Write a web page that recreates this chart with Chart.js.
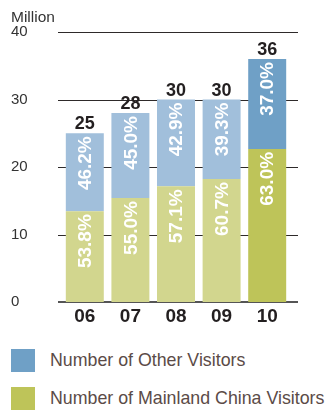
<!DOCTYPE html>
<html>
<head>
<meta charset="utf-8">
<script src="https://cdn.jsdelivr.net/npm/chart.js@4/dist/chart.umd.min.js"></script>
<style>
  html, body { margin: 0; padding: 0; background: #ffffff; }
  #wrap { position: relative; width: 328px; height: 410px; overflow: hidden; font-family: "Liberation Sans", Arial, sans-serif; }
  #box { position: absolute; left: 0; top: 0; width: 328px; height: 336px; }
  .lg-item { position: absolute; left: 11px; height: 23px; display: flex; align-items: center; white-space: nowrap; }
  .lg-swatch { width: 24px; height: 23px; flex: none; }
  .lg-text { margin-left: 15px; font-size: 17.8px; color: #5b4b47; }
</style>
</head>
<body>
<div id="wrap">
  <div id="box"><canvas id="c"></canvas></div>
  <div id="legend"></div>
</div>
<script>
// Visitor arrivals (million) and the share of each group (%)
const years = ['06', '07', '08', '09', '10'];
const totals = [25, 28, 30, 30, 36];
const mainlandShare = [53.8, 55.0, 57.1, 60.7, 63.0];
const otherShare = [46.2, 45.0, 42.9, 39.3, 37.0];
const yTicks = [0, 10, 20, 30, 40];

// Earlier years are drawn in the pale tint, the latest year in full colour
const mainlandColors = ['#d2d68e', '#d2d68e', '#d2d68e', '#d2d68e', '#bec459'];
const otherColors = ['#a1bfdb', '#a1bfdb', '#a1bfdb', '#a1bfdb', '#6fa0c6'];

const mainlandValues = totals.map((t, i) => t * mainlandShare[i] / 100);
const otherValues = totals.map((t, i) => t * otherShare[i] / 100);

const FONT = '"Liberation Sans", Arial, sans-serif';

// Horizontal rules behind the bars, a little wider than the plot area
const rulePlugin = {
  id: 'rules',
  beforeDatasetsDraw(chart) {
    const ctx = chart.ctx, y = chart.scales.y, area = chart.chartArea;
    ctx.save();
    yTicks.forEach(v => {
      const py = Math.round(y.getPixelForValue(v));
      ctx.beginPath();
      if (v === 0) {
        ctx.strokeStyle = '#555555';
        ctx.lineWidth = 2;
        ctx.moveTo(area.left - 4, py);
        ctx.lineTo(area.right + 8, py);
      } else {
        ctx.strokeStyle = '#2e2a2a';
        ctx.lineWidth = 1;
        ctx.moveTo(area.left - 4, py + 0.5);
        ctx.lineTo(area.right + 8, py + 0.5);
      }
      ctx.stroke();
    });
    ctx.restore();
  }
};

// Share labels inside each segment and totals above each bar
const labelPlugin = {
  id: 'barLabels',
  afterDatasetsDraw(chart) {
    const ctx = chart.ctx;
    const shares = [mainlandShare, otherShare];
    ctx.save();
    chart.data.datasets.forEach((ds, di) => {
      const meta = chart.getDatasetMeta(di);
      meta.data.forEach((bar, i) => {
        ctx.save();
        ctx.translate(bar.x, bar.y + 3);
        ctx.rotate(-Math.PI / 2);
        ctx.fillStyle = '#ffffff';
        ctx.font = 'bold 19px ' + FONT;
        ctx.textAlign = 'right';
        ctx.textBaseline = 'middle';
        ctx.fillText(shares[di][i].toFixed(1) + '%', 0, 1);
        ctx.restore();
      });
    });
    const top = chart.getDatasetMeta(1);
    ctx.fillStyle = '#231f20';
    ctx.font = 'bold 18px ' + FONT;
    ctx.textAlign = 'center';
    ctx.textBaseline = 'alphabetic';
    top.data.forEach((bar, i) => {
      ctx.fillText(String(totals[i]), bar.x, bar.y - 4);
    });
    // unit caption above the value axis
    ctx.fillStyle = '#333333';
    ctx.font = '15.5px ' + FONT;
    ctx.textAlign = 'left';
    ctx.fillText('Million', 11, 22);
    ctx.restore();
  }
};

const chart = new Chart(document.getElementById('c'), {
  type: 'bar',
  data: {
    labels: years,
    datasets: [
      { label: 'Number of Mainland China Visitors', data: mainlandValues, backgroundColor: mainlandColors, legendColor: '#bec459' },
      { label: 'Number of Other Visitors', data: otherValues, backgroundColor: otherColors, legendColor: '#6fa0c6' }
    ]
  },
  options: {
    responsive: true,
    maintainAspectRatio: false,
    animation: false,
    layout: { padding: { left: 11, right: 38, top: 32, bottom: 0 } },
    datasets: { bar: { barPercentage: 0.833, categoryPercentage: 1.0, borderWidth: 0 } },
    plugins: {
      legend: { display: false },
      tooltip: { enabled: false }
    },
    scales: {
      x: {
        stacked: true,
        grid: { display: false, drawTicks: false },
        border: { display: false },
        ticks: { color: '#231f20', font: { family: FONT, size: 19, weight: 'bold' }, padding: 3 },
        afterFit(s) { s.height = 34; }
      },
      y: {
        stacked: true,
        min: 0,
        max: 40,
        grid: { display: false, drawTicks: false },
        border: { display: false },
        ticks: {
          stepSize: 10,
          crossAlign: 'far',
          padding: 0,
          color: '#333333',
          font: { family: FONT, size: 15 }
        },
        afterFit(s) { s.width = 51; }
      }
    }
  },
  plugins: [rulePlugin, labelPlugin]
});

// Legend below the chart, top series listed first
const legend = document.getElementById('legend');
const tops = [349, 387];
chart.data.datasets.slice().reverse().forEach((ds, k) => {
  const item = document.createElement('div');
  item.className = 'lg-item';
  item.style.top = tops[k] + 'px';
  const sw = document.createElement('div');
  sw.className = 'lg-swatch';
  sw.style.background = ds.legendColor;
  const tx = document.createElement('span');
  tx.className = 'lg-text';
  tx.textContent = ds.label;
  item.appendChild(sw);
  item.appendChild(tx);
  legend.appendChild(item);
});
</script>
</body>
</html>
